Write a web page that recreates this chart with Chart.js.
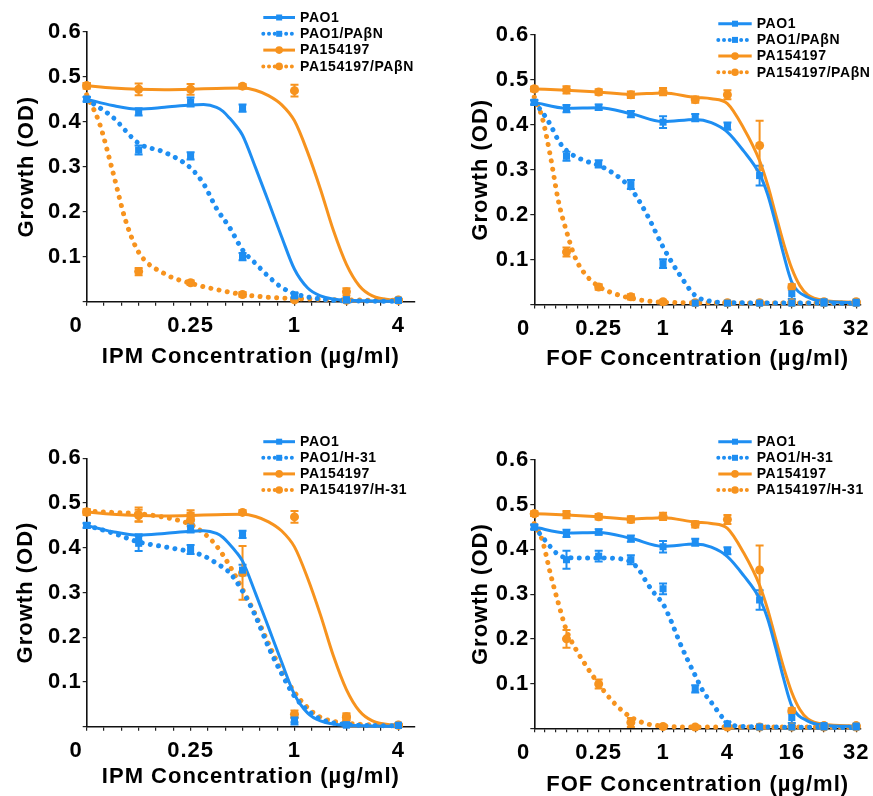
<!DOCTYPE html>
<html><head><meta charset="utf-8">
<script src="https://cdn.jsdelivr.net/npm/chart.js@4.4.1/dist/chart.umd.min.js"></script>
<style>
html,body{margin:0;padding:0;background:#fff;overflow:hidden;width:873px;height:796px}
canvas{position:absolute;display:block}
</style></head><body>
<canvas id="c1"></canvas><canvas id="c2"></canvas><canvas id="c3"></canvas><canvas id="c4"></canvas>
<script>
// ---------------- DATA ----------------
// concentration categories (µg/ml) – plotted on an evenly spaced log2 axis, "0" one step left of 0.125
const ipmConc = ['0','0.125','0.25','0.5','1','2','4'];
const fofConc = ['0','0.125','0.25','0.5','1','2','4','8','16','24','32'];
const ipmPos = ipmConc.map((c, i) => i);
const fofPos = fofConc.map((c, i) => i);
const ipmTickPos = [0, 2, 4, 6];
const ipmTickText = ['0', '0.25', '1', '4'];
const fofTickPos = [0, 2, 4, 6, 8, 10];
const fofTickText = ['0', '0.25', '1', '4', '16', '32'];

// measured means and error bars — IPM
const pao1Ipm      = [0.450, 0.422, 0.444, 0.430, 0.015, 0.004, 0.003];
const pao1IpmErr   = [0.005, 0.008, 0.010, 0.008, 0.005, 0.002, 0.002];
const pao1PabnIpm    = [0.450, 0.337, 0.324, 0.100, 0.013, 0.004, 0.003];
const pao1PabnIpmErr = [0.005, 0.010, 0.008, 0.008, 0.005, 0.002, 0.002];
const pa154Ipm     = [0.480, 0.472, 0.472, 0.479, 0.469, 0.022, 0.004];
const pa154IpmErr  = [0.006, 0.013, 0.012, 0.005, 0.013, 0.008, 0.002];
const pa154PabnIpm    = [0.480, 0.067, 0.042, 0.016, 0.004, 0.003, 0.003];
const pa154PabnIpmErr = [0.006, 0.008, 0.005, 0.005, 0.002, 0.002, 0.002];
const pao1H31Ipm    = [0.450, 0.410, 0.396, 0.350, 0.013, 0.004, 0.003];
const pao1H31IpmErr = [0.005, 0.017, 0.010, 0.012, 0.008, 0.002, 0.002];
const pa154H31Ipm    = [0.480, 0.474, 0.463, 0.344, 0.028, 0.021, 0.003];
const pa154H31IpmErr = [0.006, 0.016, 0.015, 0.060, 0.008, 0.006, 0.002];

// measured means and error bars — FOF
const pao1Fof     = [0.450, 0.436, 0.439, 0.424, 0.406, 0.416, 0.397, 0.287, 0.024, 0.006, 0.005];
const pao1FofErr  = [0.005, 0.008, 0.006, 0.007, 0.013, 0.008, 0.008, 0.022, 0.012, 0.003, 0.003];
const pa154Fof    = [0.480, 0.478, 0.473, 0.467, 0.474, 0.456, 0.467, 0.354, 0.039, 0.006, 0.006];
const pa154FofErr = [0.005, 0.008, 0.006, 0.007, 0.008, 0.007, 0.010, 0.055, 0.006, 0.002, 0.002];
const pao1PabnFof    = [0.450, 0.330, 0.313, 0.267, 0.091, 0.003, 0.003, 0.003, 0.003, 0.003, 0.003];
const pao1PabnFofErr = [0.005, 0.010, 0.008, 0.010, 0.010, 0.002, 0.002, 0.002, 0.002, 0.002, 0.002];
const pa154PabnFof    = [0.480, 0.117, 0.039, 0.017, 0.006, 0.004, 0.004, 0.004, 0.004, 0.004, 0.004];
const pa154PabnFofErr = [0.005, 0.010, 0.006, 0.006, 0.003, 0.002, 0.002, 0.002, 0.002, 0.002, 0.002];
const pao1H31Fof    = [0.450, 0.377, 0.385, 0.377, 0.312, 0.088, 0.010, 0.003, 0.003, 0.003, 0.003];
const pao1H31FofErr = [0.005, 0.020, 0.012, 0.010, 0.012, 0.008, 0.004, 0.002, 0.002, 0.002, 0.002];
const pa154H31Fof    = [0.480, 0.200, 0.099, 0.013, 0.004, 0.003, 0.003, 0.003, 0.003, 0.003, 0.003];
const pa154H31FofErr = [0.005, 0.020, 0.010, 0.010, 0.003, 0.002, 0.002, 0.002, 0.002, 0.002, 0.002];

// fitted curves (x in axis steps)
const pao1IpmCurveX = [0, 0.5, 1, 1.5, 2, 2.25, 2.5, 2.625, 2.75, 2.875, 3, 3.25, 3.5, 3.75, 4, 4.25, 4.5, 5, 6];
const pao1IpmCurveY = [0.450, 0.436, 0.428, 0.432, 0.437, 0.438, 0.432, 0.423, 0.408, 0.391, 0.370, 0.298, 0.222, 0.145, 0.072, 0.031, 0.013, 0.003, 0.001];
const pao1PabnIpmCurveX = [0, 0.5, 1, 1.5, 2, 2.25, 2.5, 2.75, 3, 3.25, 3.5, 3.75, 4, 4.5, 5, 6];
const pao1PabnIpmCurveY = [0.450, 0.410, 0.352, 0.332, 0.297, 0.262, 0.207, 0.165, 0.115, 0.085, 0.056, 0.032, 0.018, 0.006, 0.002, 0.001];
const pa154IpmCurveX = [0, 0.5, 1, 1.5, 2, 2.5, 3, 3.25, 3.5, 3.75, 4, 4.25, 4.5, 4.75, 5, 5.25, 5.5, 6];
const pa154IpmCurveY = [0.480, 0.475, 0.472, 0.471, 0.472, 0.474, 0.475, 0.470, 0.458, 0.438, 0.402, 0.333, 0.250, 0.158, 0.083, 0.035, 0.013, 0.002];
const pa154PabnIpmCurveX = [0, 0.25, 0.5, 0.75, 1, 1.5, 2, 2.5, 3, 3.5, 4, 5, 6];
const pa154PabnIpmCurveY = [0.460, 0.395, 0.290, 0.180, 0.110, 0.062, 0.041, 0.027, 0.016, 0.010, 0.007, 0.004, 0.003];
const pao1H31IpmCurveX = [0, 0.5, 1, 1.5, 2, 2.25, 2.5, 2.75, 3, 3.25, 3.5, 3.75, 4, 4.25, 4.5, 5, 6];
const pao1H31IpmCurveY = [0.450, 0.433, 0.413, 0.402, 0.391, 0.382, 0.365, 0.344, 0.303, 0.247, 0.178, 0.119, 0.068, 0.037, 0.017, 0.005, 0.002];
const pa154H31IpmCurveX = [0, 0.5, 1, 1.5, 2, 2.25, 2.5, 2.75, 3, 3.25, 3.5, 3.75, 4, 4.25, 4.5, 5, 5.5, 6];
const pa154H31IpmCurveY = [0.482, 0.479, 0.476, 0.468, 0.452, 0.433, 0.404, 0.360, 0.307, 0.250, 0.186, 0.125, 0.077, 0.043, 0.021, 0.008, 0.004, 0.002];

const pao1FofCurveX = [0, 1, 2, 3, 4, 5, 5.5, 6, 6.5, 7, 7.25, 7.5, 7.75, 8, 8.5, 9, 10];
const pao1FofCurveY = [0.450, 0.437, 0.438, 0.425, 0.407, 0.412, 0.405, 0.384, 0.342, 0.290, 0.245, 0.180, 0.110, 0.050, 0.016, 0.007, 0.004];
const pa154FofCurveX = [0, 1, 2, 3, 4, 5, 5.5, 6, 6.5, 7, 7.25, 7.5, 7.75, 8, 8.25, 8.5, 9, 10];
const pa154FofCurveY = [0.480, 0.477, 0.473, 0.468, 0.471, 0.461, 0.458, 0.447, 0.393, 0.320, 0.266, 0.200, 0.135, 0.080, 0.042, 0.021, 0.009, 0.005];
const pao1PabnFofCurveX = [0, 0.25, 0.5, 0.75, 1, 1.5, 2, 2.5, 3, 3.5, 4, 4.5, 5, 5.5, 6, 10];
const pao1PabnFofCurveY = [0.450, 0.428, 0.400, 0.365, 0.343, 0.322, 0.310, 0.290, 0.258, 0.200, 0.128, 0.068, 0.020, 0.007, 0.004, 0.003];
const pa154PabnFofCurveX = [0, 0.25, 0.5, 0.75, 1, 1.25, 1.5, 2, 2.5, 3, 3.5, 4, 5, 10];
const pa154PabnFofCurveY = [0.462, 0.415, 0.330, 0.230, 0.163, 0.108, 0.075, 0.040, 0.024, 0.014, 0.008, 0.005, 0.004, 0.003];
const pao1H31FofCurveX = [0, 0.25, 0.5, 0.75, 1, 1.5, 2, 2.5, 3, 3.25, 3.5, 3.75, 4, 4.25, 4.5, 4.75, 5, 5.25, 5.5, 6, 6.5, 10];
const pao1H31FofCurveY = [0.450, 0.428, 0.406, 0.388, 0.382, 0.381, 0.381, 0.380, 0.372, 0.355, 0.325, 0.300, 0.278, 0.240, 0.195, 0.155, 0.118, 0.082, 0.058, 0.013, 0.004, 0.002];
const pa154H31FofCurveX = [0, 0.25, 0.5, 0.75, 1, 1.25, 1.5, 2, 2.5, 3, 3.5, 4, 5, 10];
const pa154H31FofCurveY = [0.458, 0.420, 0.346, 0.279, 0.219, 0.182, 0.152, 0.099, 0.055, 0.025, 0.010, 0.005, 0.003, 0.003];

// ---------------- STYLE / LAYOUT ----------------
const BLUE = '#1E8EF2', ORANGE = '#F7931E';
const FONT = '"Liberation Sans", Arial, Helvetica, sans-serif';

const pts = (xs, ys) => xs.map((x, i) => ({ x: x, y: ys[i] }));

function series(label, color, dotted, square, pos, vals, err, cx, cy) {
  return { label, color, dotted, square, pos, vals, err, cx, cy };
}

const panels = [
  { id: 'c1', left: 0, top: 0, w: 436, h: 398, padL: 13.3, padT: 31.7, padR: 21, yw: 73.4, xh: 96.3, tpb: 28, xmax: 6.32,
    tickPos: ipmTickPos, tickText: ipmTickText, xTitle: 'IPM Concentration (µg/ml)',
    legend: { x0: 263.3, x1: 295, xt: 300, y0: 17.5, dy: 16.3 },
    series: [
      series('PAO1', BLUE, false, true, ipmPos, pao1Ipm, pao1IpmErr, pao1IpmCurveX, pao1IpmCurveY),
      series('PAO1/PAβN', BLUE, true, true, ipmPos, pao1PabnIpm, pao1PabnIpmErr, pao1PabnIpmCurveX, pao1PabnIpmCurveY),
      series('PA154197', ORANGE, false, false, ipmPos, pa154Ipm, pa154IpmErr, pa154IpmCurveX, pa154IpmCurveY),
      series('PA154197/PAβN', ORANGE, true, false, ipmPos, pa154PabnIpm, pa154PabnIpmErr, pa154PabnIpmCurveX, pa154PabnIpmCurveY)
    ] },
  { id: 'c2', left: 436, top: 0, w: 437, h: 398, padL: 31.3, padT: 35, padR: 12, yw: 67, xh: 93.5, tpb: 25.8, xmax: 10.15,
    tickPos: fofTickPos, tickText: fofTickText, xTitle: 'FOF Concentration (µg/ml)',
    legend: { x0: 282.3, x1: 315.7, xt: 320.7, y0: 23.7, dy: 16.2 },
    series: [
      series('PAO1', BLUE, false, true, fofPos, pao1Fof, pao1FofErr, pao1FofCurveX, pao1FofCurveY),
      series('PAO1/PAβN', BLUE, true, true, fofPos, pao1PabnFof, pao1PabnFofErr, pao1PabnFofCurveX, pao1PabnFofCurveY),
      series('PA154197', ORANGE, false, false, fofPos, pa154Fof, pa154FofErr, pa154FofCurveX, pa154FofCurveY),
      series('PA154197/PAβN', ORANGE, true, false, fofPos, pa154PabnFof, pa154PabnFofErr, pa154PabnFofCurveX, pa154PabnFofCurveY)
    ] },
  { id: 'c3', left: 0, top: 398, w: 436, h: 410, padL: 12.8, padT: 60.3, padR: 21, yw: 73.9, xh: 81.3, tpb: 17.5, xmax: 6.32,
    tickPos: ipmTickPos, tickText: ipmTickText, xTitle: 'IPM Concentration (µg/ml)',
    legend: { x0: 263.3, x1: 295, xt: 300, y0: 43.7, dy: 16.1 },
    series: [
      series('PAO1', BLUE, false, true, ipmPos, pao1Ipm, pao1IpmErr, pao1IpmCurveX, pao1IpmCurveY),
      series('PAO1/H-31', BLUE, true, true, ipmPos, pao1H31Ipm, pao1H31IpmErr, pao1H31IpmCurveX, pao1H31IpmCurveY),
      series('PA154197', ORANGE, false, false, ipmPos, pa154Ipm, pa154IpmErr, pa154IpmCurveX, pa154IpmCurveY),
      series('PA154197/H-31', ORANGE, true, false, ipmPos, pa154H31Ipm, pa154H31IpmErr, pa154H31IpmCurveX, pa154H31IpmCurveY)
    ] },
  { id: 'c4', left: 436, top: 398, w: 437, h: 410, padL: 31.3, padT: 62, padR: 12, yw: 67, xh: 79.7, tpb: 10.3, xmax: 10.15,
    tickPos: fofTickPos, tickText: fofTickText, xTitle: 'FOF Concentration (µg/ml)',
    legend: { x0: 282.3, x1: 315.7, xt: 320.7, y0: 43.7, dy: 16.1 },
    series: [
      series('PAO1', BLUE, false, true, fofPos, pao1Fof, pao1FofErr, pao1FofCurveX, pao1FofCurveY),
      series('PAO1/H-31', BLUE, true, true, fofPos, pao1H31Fof, pao1H31FofErr, pao1H31FofCurveX, pao1H31FofCurveY),
      series('PA154197', ORANGE, false, false, fofPos, pa154Fof, pa154FofErr, pa154FofCurveX, pa154FofCurveY),
      series('PA154197/H-31', ORANGE, true, false, fofPos, pa154H31Fof, pa154H31FofErr, pa154H31FofCurveX, pa154H31FofCurveY)
    ] }
];

// ---------------- PLUGINS ----------------
const spacingPlugin = {
  id: 'spacing',
  beforeLayout(chart) { chart.ctx.letterSpacing = '1px'; },
  beforeDraw(chart) { chart.ctx.letterSpacing = '1px'; }
};

const errorBarPlugin = {
  id: 'errbars',
  beforeDatasetsDraw(chart) {
    const ctx = chart.ctx, ys = chart.scales.y;
    chart.data.datasets.forEach((ds, i) => {
      if (!ds.err) return;
      const meta = chart.getDatasetMeta(i);
      ctx.save();
      ctx.strokeStyle = ds.backgroundColor;
      ctx.lineWidth = 2;
      meta.data.forEach((pt, j) => {
        const v = ds.data[j].y, e = ds.err[j];
        const y1 = ys.getPixelForValue(v + e), y2 = ys.getPixelForValue(Math.max(v - e, 0));
        ctx.beginPath();
        ctx.moveTo(pt.x, y1); ctx.lineTo(pt.x, y2);
        ctx.moveTo(pt.x - 4, y1); ctx.lineTo(pt.x + 4, y1);
        ctx.moveTo(pt.x - 4, y2); ctx.lineTo(pt.x + 4, y2);
        ctx.stroke();
      });
      ctx.restore();
    });
  }
};

const legendPlugin = {
  id: 'seriesLegend',
  afterDraw(chart, args, opts) {
    const ctx = chart.ctx;
    const items = chart.data.datasets.filter(d => d.err);
    ctx.save();
    ctx.letterSpacing = '0.6px';
    ctx.font = 'bold 14px ' + FONT;
    ctx.textBaseline = 'middle';
    ctx.textAlign = 'left';
    items.forEach((it, k) => {
      const y = opts.y0 + k * opts.dy;
      ctx.strokeStyle = it.backgroundColor;
      ctx.lineWidth = it.dotted ? 4 : 3;
      ctx.lineCap = it.dotted ? 'round' : 'butt';
      ctx.setLineDash(it.dotted ? [0.01, 5.7] : []);
      ctx.beginPath(); ctx.moveTo(opts.x0, y); ctx.lineTo(opts.x1, y); ctx.stroke();
      ctx.setLineDash([]);
      ctx.fillStyle = it.backgroundColor;
      const cx = (opts.x0 + opts.x1) / 2;
      if (it.pointStyle === 'rect') { ctx.fillRect(cx - 3, y - 3, 6, 6); }
      else { ctx.beginPath(); ctx.arc(cx, y, 3.8, 0, Math.PI * 2); ctx.fill(); }
      ctx.fillStyle = '#000';
      ctx.fillText(it.label, opts.xt, y + 0.5);
    });
    ctx.restore();
  }
};

// ---------------- BUILD ----------------
function makePanel(p) {
  const cv = document.getElementById(p.id);
  cv.width = p.w; cv.height = p.h;
  cv.style.left = p.left + 'px'; cv.style.top = p.top + 'px';
  cv.style.width = p.w + 'px'; cv.style.height = p.h + 'px';

  const datasets = [];
  p.series.forEach((s, k) => {
    datasets.push({
      label: s.label, data: pts(s.pos, s.vals), err: s.err, dotted: s.dotted,
      pointStyle: s.square ? 'rect' : 'circle', pointRadius: s.square ? 5 : 4.5,
      backgroundColor: s.color, borderColor: s.color, borderWidth: 0,
      showLine: false, clip: false, order: k
    });
  });
  p.series.forEach((s, k) => {
    datasets.push({
      label: s.label + ' fit', data: pts(s.cx, s.cy), showLine: true,
      borderColor: s.color, backgroundColor: s.color,
      borderWidth: s.dotted ? 5 : 3, borderDash: s.dotted ? [0.01, 8.3] : [],
      borderCapStyle: s.dotted ? 'round' : 'butt',
      pointRadius: 0, cubicInterpolationMode: 'monotone', fill: false, clip: false, order: 10 + k
    });
  });

  const xTickVals = [];
  for (let k = 0; k / 3 <= p.xmax + 1e-9; k++) xTickVals.push(k / 3);
  const yTickVals = [];
  for (let k = 0; k <= 12; k++) yTickVals.push(k * 0.05);

  const labelFor = v => {
    for (let i = 0; i < p.tickPos.length; i++) {
      if (Math.abs(v - p.tickPos[i]) < 1e-6) return p.tickText[i] === '0' ? '0   ' : p.tickText[i];
    }
    return '';
  };

  new Chart(cv, {
    type: 'scatter',
    data: { datasets },
    plugins: [spacingPlugin, errorBarPlugin, legendPlugin],
    options: {
      responsive: false, animation: false, events: [],
      layout: { padding: { left: p.padL, top: p.padT, right: p.padR, bottom: 0 } },
      plugins: {
        legend: { display: false }, tooltip: { enabled: false },
        seriesLegend: p.legend
      },
      scales: {
        x: {
          type: 'linear', min: 0, max: p.xmax,
          afterBuildTicks: ax => { ax.ticks = xTickVals.map(v => ({ value: v })); },
          afterFit: ax => { ax.height = p.xh; ax.paddingLeft = 0; ax.paddingRight = 0; },
          ticks: { autoSkip: false, maxRotation: 0, minRotation: 0, padding: 7, color: '#000',
                   font: { family: FONT, size: 22, weight: 'bold' }, callback: v => labelFor(v) },
          grid: { display: true, drawOnChartArea: false, drawTicks: true, tickLength: 4, color: '#222', lineWidth: 1.2 },
          border: { display: true, color: '#111', width: 1.6 },
          title: { display: true, text: p.xTitle, color: '#000', font: { family: FONT, size: 22, weight: 'bold' },
                   padding: { top: 0, bottom: p.tpb } }
        },
        y: {
          type: 'linear', min: 0, max: 0.6,
          afterBuildTicks: ax => { ax.ticks = yTickVals.map(v => ({ value: v })); },
          afterFit: ax => { ax.width = p.yw; ax.paddingTop = 0; ax.paddingBottom = 0; },
          ticks: { padding: 1, color: '#000', font: { family: FONT, size: 22, weight: 'bold' },
                   callback: v => { const r = Math.round(v * 100); return (r > 0 && r % 10 === 0) ? (r / 100).toFixed(1) : ''; } },
          grid: { display: true, drawOnChartArea: false, drawTicks: true, tickLength: 4, color: '#222', lineWidth: 1.2 },
          border: { display: true, color: '#111', width: 1.6 },
          title: { display: true, text: 'Growth (OD)', color: '#000', font: { family: FONT, size: 22, weight: 'bold' },
                   padding: { top: 0, bottom: 0 } }
        }
      }
    }
  });
}

panels.forEach(makePanel);
</script>
</body></html>
